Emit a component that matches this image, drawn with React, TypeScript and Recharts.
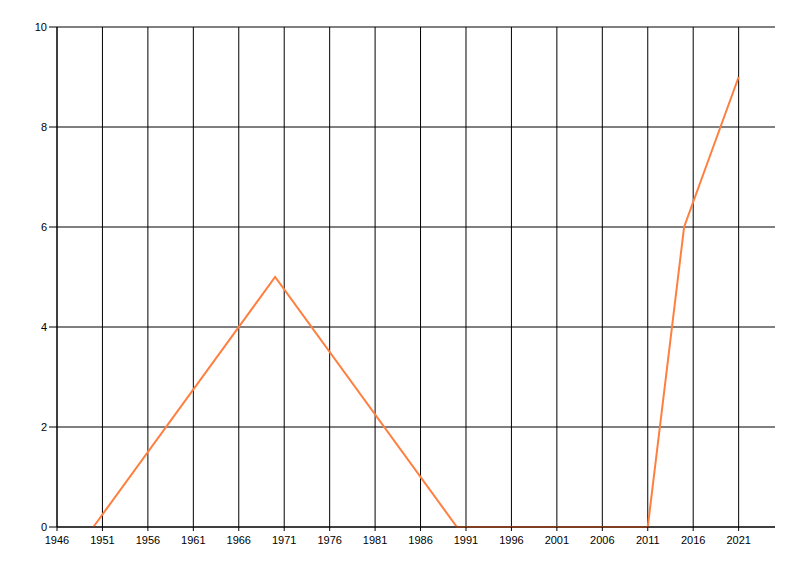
import React from 'react';
import { LineChart, Line, XAxis, YAxis, CartesianGrid, ReferenceLine } from 'recharts';

const years = [1950, 1970, 1990, 2011, 2015, 2021];
const values = [0, 5, 0, 0, 6, 9];
const xTicks = [1946, 1951, 1956, 1961, 1966, 1971, 1976, 1981, 1986, 1991, 1996, 2001, 2006, 2011, 2016, 2021];
const yTicks = [0, 2, 4, 6, 8, 10];

const data = years.map((year, i) => ({ year, value: values[i] }));

const tickStyle = { fontSize: 11, fill: '#000', fontFamily: '"Liberation Sans", Arial, sans-serif' };

export default function App() {
  return (
    <div style={{ position: 'absolute', left: 0, top: 0, background: '#fff' }}>
      <LineChart width={800} height={576} data={data} margin={{ top: 27, right: 25, left: 0, bottom: 29 }}>
        <CartesianGrid stroke="#000" strokeWidth={1} vertical={false} />
        {xTicks.map(t => (
          <ReferenceLine key={t} x={t} stroke="#000" strokeWidth={1} />
        ))}
        <XAxis
          dataKey="year"
          type="number"
          domain={[1946, 2025]}
          ticks={xTicks}
          interval={0}
          height={20}
          tickSize={4}
          tickMargin={5}
          tick={tickStyle}
          stroke="#000"
          axisLine={{ stroke: '#000' }}
          tickLine={{ stroke: '#000' }}
        />
        <YAxis
          type="number"
          domain={[0, 10]}
          ticks={yTicks}
          interval={0}
          width={57}
          tickSize={8}
          tickMargin={2}
          tick={tickStyle}
          stroke="#000"
          axisLine={{ stroke: '#000' }}
          tickLine={{ stroke: '#000' }}
        />
        <Line
          type="linear"
          dataKey="value"
          stroke="#FF7F40"
          strokeWidth={2}
          dot={false}
          isAnimationActive={false}
        />
      </LineChart>
    </div>
  );
}
